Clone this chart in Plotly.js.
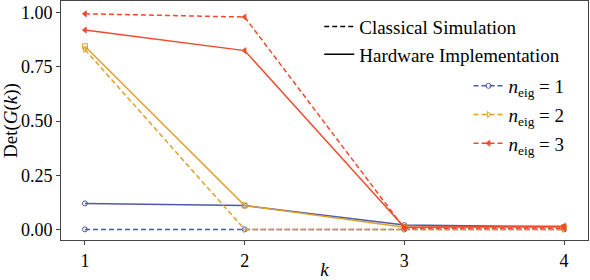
<!DOCTYPE html>
<html>
<head>
<meta charset="utf-8">
<script src="https://cdn.plot.ly/plotly-3.0.1.min.js"></script>
<style>html,body{margin:0;padding:0;background:#fff;}#chart{width:590px;height:280px;}</style>
</head>
<body>
<div id="chart"></div>
<script>
const k = [1, 2, 3, 4];
const classical1 = [0.0, 0.0, 0.0, 0.0];
const hardware1 = [0.12, 0.11, 0.02, 0.012];
const classical2 = [0.83, 0.0, 0.0, 0.0];
const hardware2 = [0.845, 0.11, 0.01, 0.01];
const classical3 = [0.995, 0.98, 0.005, 0.005];
const hardware3 = [0.92, 0.825, 0.01, 0.015];
const xTicks = [1, 2, 3, 4];
const yTicks = [0, 0.25, 0.5, 0.75, 1.0];
const yTickLabels = ['0.00', '0.25', '0.50', '0.75', '1.00'];

const BLUE = '#4a5aa8', ORANGE = '#dda02a', RED = '#f04a2c';
const FONT = 'Liberation Serif, serif';
const DASH = '5px,3px';

function tr(y, color, dash, symbol, name, show, legend, group) {
  return {
    x: k, y: y, type: 'scatter', mode: 'lines+markers',
    line: {color: color, width: 1.5, dash: dash},
    marker: {color: color, symbol: symbol, size: 5, line: {color: color, width: 1}},
    name: name, showlegend: show, legend: legend, legendgroup: group,
    hoverinfo: 'skip'
  };
}

const data = [
  tr(classical1, BLUE, DASH, 'circle-open', '<i>n</i><sub>eig</sub> = 1', true, 'legend2', 'g1'),
  tr(hardware1, BLUE, 'solid', 'circle-open', 'h1', false, 'legend2', 'g1'),
  tr(classical2, ORANGE, DASH, 'triangle-right-open', '<i>n</i><sub>eig</sub> = 2', true, 'legend2', 'g2'),
  tr(hardware2, ORANGE, 'solid', 'square-open', 'h2', false, 'legend2', 'g2'),
  tr(classical3, RED, DASH, 'triangle-left', '<i>n</i><sub>eig</sub> = 3', true, 'legend2', 'g3'),
  tr(hardware3, RED, 'solid', 'triangle-left', 'h3', false, 'legend2', 'g3'),
  {x: [null], y: [null], type: 'scatter', mode: 'lines', line: {color: '#000', width: 1.5, dash: DASH},
   name: 'Classical Simulation', legend: 'legend', legendgroup: 'c', hoverinfo: 'skip'},
  {x: [null], y: [null], type: 'scatter', mode: 'lines', line: {color: '#000', width: 1.5},
   name: 'Hardware Implementation', legend: 'legend', legendgroup: 'h', hoverinfo: 'skip'}
];

const layout = {
  width: 590, height: 280,
  margin: {l: 61, r: 2, t: 1, b: 40},
  paper_bgcolor: '#fff', plot_bgcolor: '#fff',
  font: {family: FONT, size: 18, color: '#000'},
  showlegend: true,
  xaxis: {
    range: [0.85, 4.15], tickvals: xTicks, ticktext: xTicks.map(String),
    showgrid: false, zeroline: false, showline: true, mirror: true,
    linecolor: '#444', linewidth: 1, ticks: 'outside', ticklen: 4, tickcolor: '#444',
    tickfont: {family: FONT, size: 18},
    title: {text: '<i>k</i>', font: {family: FONT, size: 19}, standoff: 4}
  },
  yaxis: {
    range: [-0.049, 1.054], tickvals: yTicks, ticktext: yTickLabels,
    showgrid: false, zeroline: false, showline: true, mirror: true,
    linecolor: '#444', linewidth: 1, ticks: 'outside', ticklen: 4, tickcolor: '#444',
    tickfont: {family: FONT, size: 18},
    title: {text: 'Det(<i>G</i>(<i>k</i>))', font: {family: FONT, size: 19}, standoff: 6}
  },
  legend: {
    x: 0.49, y: 0.972, xanchor: 'left', yanchor: 'top',
    bgcolor: 'rgba(0,0,0,0)', borderwidth: 0,
    font: {family: FONT, size: 19}, traceorder: 'grouped', tracegroupgap: 0
  },
  legend2: {
    x: 0.965, y: 0.724, xanchor: 'right', yanchor: 'top',
    bgcolor: 'rgba(0,0,0,0)', borderwidth: 0,
    font: {family: FONT, size: 19}, traceorder: 'grouped', tracegroupgap: 1
  }
};

Plotly.newPlot('chart', data, layout, {staticPlot: true, displayModeBar: false});
</script>
</body>
</html>
